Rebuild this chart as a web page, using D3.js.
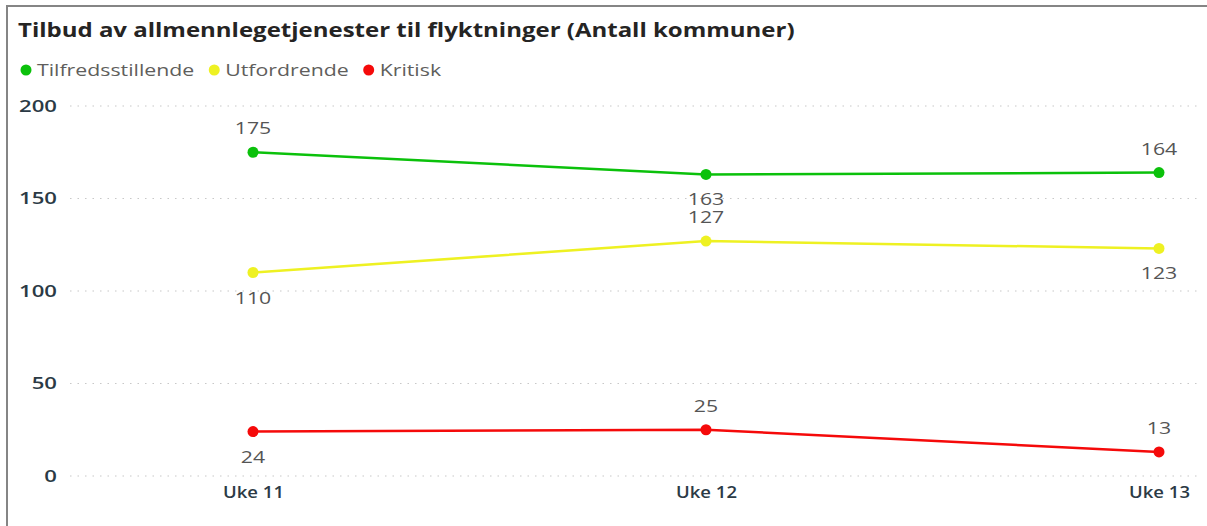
<!DOCTYPE html>
<html lang="no">
<head>
    <meta charset="UTF-8">
    <title>Tilbud av allmennlegetjenester</title>
    <script src="https://d3js.org/d3.v7.min.js"></script>
    <style>
        body { margin: 0; background: #fff; }
        svg { display: block; font-family: "Open Sans", "DejaVu Sans", sans-serif; }
    </style>
</head>
<body>
    <svg></svg>
    <script>
        // Data
        const weeks = ["Uke 11", "Uke 12", "Uke 13"];
        const tilfredsstillende = [175, 163, 164];
        const utfordrende = [110, 127, 123];
        const kritisk = [24, 25, 13];
        const yTicks = [0, 50, 100, 150, 200];

        // label placement per point: -1 above, 1 below
        const series = [
            { name: "Tilfredsstillende", color: "#0bc10b", values: tilfredsstillende, pos: [-1, 1, -1] },
            { name: "Utfordrende", color: "#eef122", values: utfordrende, pos: [1, -1, 1] },
            { name: "Kritisk", color: "#f50a0a", values: kritisk, pos: [1, -1, -1] }
        ];

        const W = 1207, H = 526;
        const svg = d3.select("svg").attr("width", W).attr("height", H);

        // the source text is rendered wider than our fonts, stretch it a bit
        function stretch(sel, k) {
            sel.each(function () {
                const len = this.getComputedTextLength();
                d3.select(this).attr("textLength", len * k).attr("lengthAdjust", "spacingAndGlyphs");
            });
        }

        // frame (top + left border)
        svg.append("path")
            .attr("d", `M7,${H} V6 H${W}`)
            .attr("fill", "none")
            .attr("stroke", "#858585")
            .attr("stroke-width", 2);

        // title
        svg.append("text")
            .attr("x", 18).attr("y", 37)
            .attr("font-size", 19.5).attr("font-weight", "bold")
            .attr("fill", "#252423")
            .text("Tilbud av allmennlegetjenester til flyktninger (Antall kommuner)")
            .call(stretch, 1.23);

        // legend
        const legend = svg.append("g").attr("transform", "translate(0,70)");
        let lx = 26;
        series.forEach(s => {
            legend.append("circle").attr("cx", lx).attr("cy", 0).attr("r", 5.5).attr("fill", s.color);
            const t = legend.append("text")
                .attr("x", lx + 11).attr("y", 6)
                .attr("font-size", 16).attr("fill", "#605e5c")
                .text(s.name);
            const len = t.node().getComputedTextLength() * 1.33;
            t.attr("textLength", len).attr("lengthAdjust", "spacingAndGlyphs");
            lx += 11 + len + 20;
        });

        // scales
        const x = d3.scalePoint().domain(weeks).range([253, 1159]);
        const y = d3.scaleLinear().domain([0, 200]).range([476, 106]);

        // gridlines
        svg.append("g")
            .selectAll("line")
            .data(yTicks)
            .join("line")
            .attr("x1", 70).attr("x2", 1200)
            .attr("y1", d => y(d)).attr("y2", d => y(d))
            .attr("stroke", "#c8c8c8")
            .attr("stroke-width", 1.2)
            .attr("stroke-dasharray", "1.5,6");

        // y axis
        const yAxis = svg.append("g")
            .attr("transform", "translate(57,0)")
            .call(d3.axisLeft(y).tickValues(yTicks).tickSize(0).tickPadding(0));
        yAxis.select(".domain").remove();
        yAxis.selectAll("text")
            .attr("font-size", 17).attr("font-weight", 600)
            .attr("font-family", "Open Sans, sans-serif")
            .attr("fill", "#2b3a45")
            .call(stretch, 1.3);

        // x axis
        const xAxis = svg.append("g")
            .attr("transform", "translate(0,486)")
            .call(d3.axisBottom(x).tickSize(0).tickPadding(0));
        xAxis.select(".domain").remove();
        xAxis.selectAll("text")
            .attr("dy", "0.75em")
            .attr("font-size", 16.5).attr("font-weight", 600)
            .attr("font-family", "Open Sans, sans-serif")
            .attr("fill", "#2b3a45")
            .call(stretch, 1.12);

        const line = d3.line().x((d, i) => x(weeks[i])).y(d => y(d));

        series.forEach(s => {
            svg.append("path")
                .datum(s.values)
                .attr("d", line)
                .attr("fill", "none")
                .attr("stroke", s.color)
                .attr("stroke-width", 2.5);

            svg.append("g").selectAll("circle")
                .data(s.values)
                .join("circle")
                .attr("cx", (d, i) => x(weeks[i]))
                .attr("cy", d => y(d))
                .attr("r", 5.5)
                .attr("fill", s.color);

            svg.append("g").selectAll("text")
                .data(s.values)
                .join("text")
                .attr("x", (d, i) => x(weeks[i]))
                .attr("y", (d, i) => y(d) + (s.pos[i] < 0 ? -18 : 31))
                .attr("text-anchor", "middle")
                .attr("font-size", 17)
                .attr("fill", "#555")
                .text(d => d)
                .call(stretch, 1.25);
        });
    </script>
</body>
</html>
